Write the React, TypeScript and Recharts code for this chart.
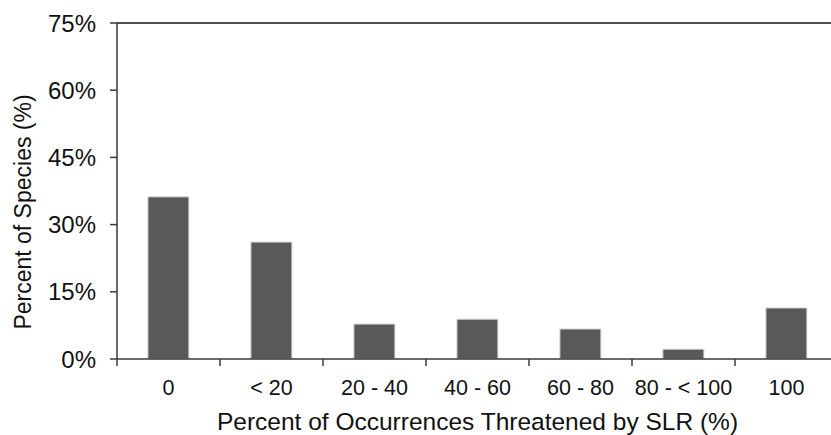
import { Bar, BarChart, Label, ReferenceLine, XAxis, YAxis } from 'recharts';

const categories = ['0', '< 20', '20 - 40', '40 - 60', '60 - 80', '80 - < 100', '100'];
const speciesPct = [36.2, 26.1, 7.8, 8.9, 6.7, 2.2, 11.4];
const yTicks = [0, 15, 30, 45, 60, 75];

const data = categories.map((range, i) => ({ range, pct: speciesPct[i] }));

const AXIS = '#3a3a3a';
const TEXT = '#111';
const FONT = '"Liberation Sans", Arial, sans-serif';
const X_TICK_SIZE = 7;
const X_TICK_MARGIN = 14;

function XTick(props: any) {
  const { x, y, payload } = props;
  const half = payload.offset ?? 51.5;
  const axisY = y - X_TICK_SIZE - X_TICK_MARGIN;
  return (
    <g>
      <line x1={x - half} x2={x - half} y1={axisY} y2={axisY + X_TICK_SIZE} stroke={AXIS} strokeWidth={1.5} />
      <text x={x} y={y} dy="0.71em" textAnchor="middle" fill={TEXT} fontSize={21.5} fontFamily={FONT}>
        {payload.value}
      </text>
    </g>
  );
}

function YTitle(props: any) {
  const vb = props.viewBox;
  const cx = vb.x + 23;
  const cy = vb.y + vb.height / 2 + 21;
  return (
    <text
      x={cx}
      y={cy}
      transform={`rotate(-90, ${cx}, ${cy})`}
      textAnchor="middle"
      dominantBaseline="central"
      fill={TEXT}
      fontSize={23}
      fontFamily={FONT}
    >
      Percent of Species (%)
    </text>
  );
}

export default function App() {
  return (
    <div
      style={{
        position: 'absolute',
        left: 0,
        top: 0,
        width: 831,
        height: 435,
        overflow: 'hidden',
        background: '#fff',
      }}
    >
      <BarChart
        width={845}
        height={435}
        data={data}
        margin={{ top: 23, right: 7, left: 0, bottom: 0 }}
        barCategoryGap="30%"
      >
        <ReferenceLine y={75} stroke="#505050" strokeWidth={2} />
        <XAxis
          dataKey="range"
          height={76}
          stroke={AXIS}
          strokeWidth={1.5}
          tickLine={false}
          tickSize={X_TICK_SIZE}
          tickMargin={X_TICK_MARGIN}
          tick={<XTick />}
          interval={0}
        >
          <Label
            value="Percent of Occurrences Threatened by SLR (%)"
            position="insideBottom"
            offset={5}
            fill={TEXT}
            fontSize={24.5}
            fontFamily={FONT}
          />
        </XAxis>
        <YAxis
          width={117}
          domain={[0, 75]}
          ticks={yTicks}
          tickFormatter={(v) => `${v}%`}
          stroke={AXIS}
          strokeWidth={1.5}
          tickSize={7}
          tickMargin={14}
          tick={{ fill: TEXT, fontSize: 24, fontFamily: FONT }}
          allowDataOverflow
        >
          <Label content={<YTitle />} />
        </YAxis>
        <Bar dataKey="pct" fill="#595959" stroke="#d8d8d8" strokeWidth={1} isAnimationActive={false} />
      </BarChart>
    </div>
  );
}
